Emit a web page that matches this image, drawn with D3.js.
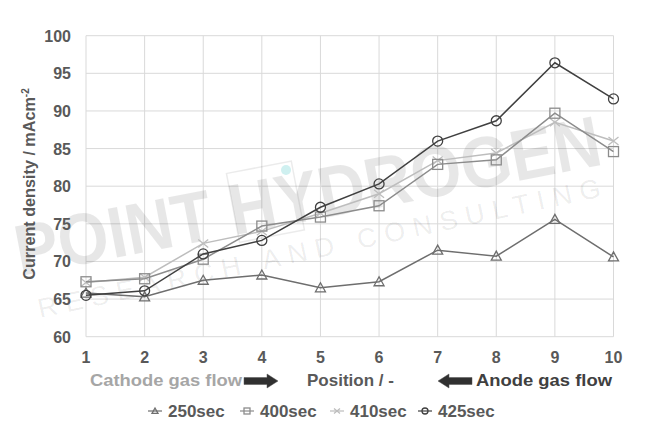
<!DOCTYPE html>
<html><head><meta charset="utf-8">
<script src="https://cdn.jsdelivr.net/npm/d3@7/dist/d3.min.js"></script>
<style>body{margin:0;background:#fff}svg{display:block;font-family:"Liberation Sans",Arial,sans-serif}</style>
</head><body><svg id="c" width="653" height="437"></svg>
<script>
const positions = [1,2,3,4,5,6,7,8,9,10];
const yTicks = [60,65,70,75,80,85,90,95,100];
const s250 = [65.8,65.3,67.5,68.2,66.5,67.3,71.5,70.7,75.6,70.6];
const s400 = [67.3,67.7,70.3,74.7,75.9,77.4,82.9,83.5,89.7,84.6];
const s410 = [67.2,67.9,72.4,74.0,76.4,79.0,83.4,84.4,88.5,86.0];
const s425 = [65.5,66.1,71.0,72.8,77.2,80.3,86.0,88.7,96.4,91.6];
const seriesNames = ["250sec","400sec","410sec","425sec"];

const series = [
  {name:seriesNames[0], values:s250, color:"#6e6e6e", marker:"triangle"},
  {name:seriesNames[1], values:s400, color:"#8c8c8c", marker:"square"},
  {name:seriesNames[2], values:s410, color:"#bdbdbd", marker:"cross"},
  {name:seriesNames[3], values:s425, color:"#404040", marker:"circle"}
];

const svg = d3.select("#c");
const x = d3.scaleLinear().domain([1,10]).range([86,613.5]);
const y = d3.scaleLinear().domain([60,100]).range([336.7,35.7]);

// grid
const grid = svg.append("g");
grid.selectAll("line.h").data(yTicks).join("line")
  .attr("x1",x(1)).attr("x2",x(10)).attr("y1",d=>y(d)).attr("y2",d=>y(d))
  .attr("stroke","#d9d9d9").attr("stroke-width",1);
grid.selectAll("line.v").data(positions).join("line")
  .attr("y1",y(60)).attr("y2",y(100)).attr("x1",d=>x(d)).attr("x2",d=>x(d))
  .attr("stroke","#d9d9d9").attr("stroke-width",1);

// watermark
const wm = svg.append("g").attr("transform","translate(20,276) rotate(-10.8)");
wm.append("text").attr("x",0).attr("y",0).attr("font-size",72).attr("font-weight","bold").attr("fill","#000").attr("fill-opacity",0.095)
  .attr("textLength",595).attr("lengthAdjust","spacingAndGlyphs").text("POINT HYDROGEN");
wm.append("rect").attr("x",222).attr("y",-62).attr("width",66).attr("height",70)
  .attr("fill","none").attr("stroke","#000").attr("stroke-opacity",0.08).attr("stroke-width",1.5);
const wm2 = svg.append("g").attr("transform","translate(40,318) rotate(-12.2)");
wm2.append("text").attr("x",0).attr("y",0).attr("font-size",27).attr("fill","#000").attr("fill-opacity",0.08)
  .attr("textLength",575).attr("lengthAdjust","spacing").text("RESEARCH AND CONSULTING");
svg.append("circle").attr("cx",286).attr("cy",170).attr("r",5).attr("fill","#a8e4e4").attr("fill-opacity",0.55);

// y axis labels
svg.append("g").selectAll("text").data(yTicks).join("text")
  .attr("x",71).attr("y",d=>y(d)+6).attr("text-anchor","end")
  .attr("font-size",16).attr("font-weight","bold").attr("fill","#595959").text(d=>d);
// x axis labels
svg.append("g").selectAll("text").data(positions).join("text")
  .attr("x",d=>x(d)).attr("y",363).attr("text-anchor","middle")
  .attr("font-size",16).attr("font-weight","bold").attr("fill","#595959").text(d=>d);

// y title
const yt = svg.append("text").attr("transform","translate(35,184) rotate(-90)")
  .attr("text-anchor","middle").attr("font-size",16.2).attr("font-weight","bold").attr("fill","#595959");
yt.append("tspan").text("Current density / mAcm");
yt.append("tspan").attr("dy",-6).attr("font-size",10).text("-2");

// x title pieces
svg.append("text").attr("x",90).attr("y",386).attr("font-size",17).attr("font-weight","bold")
  .attr("fill","#a6a6a6").attr("textLength",152).attr("lengthAdjust","spacingAndGlyphs").text("Cathode gas flow");
svg.append("text").attr("x",307).attr("y",386).attr("font-size",17).attr("font-weight","bold")
  .attr("fill","#595959").text("Position / -");
svg.append("text").attr("x",476).attr("y",386).attr("font-size",17).attr("font-weight","bold")
  .attr("fill","#404040").attr("textLength",136).attr("lengthAdjust","spacingAndGlyphs").text("Anode gas flow");

function arrow(x0,x1,yc){
  const dir = x1>x0?1:-1, head=11*dir;
  const pts=[[x0,yc-3.5],[x1-head,yc-3.5],[x1-head,yc-7],[x1,yc],[x1-head,yc+7],[x1-head,yc+3.5],[x0,yc+3.5]];
  svg.append("path").attr("d","M"+pts.map(p=>p.join(",")).join("L")+"Z")
    .attr("fill","#303030").attr("stroke","#555").attr("stroke-width",0.5);
}
arrow(244,278,381);
arrow(472,438,381);

// lines
function drawMarker(g,type,cx,cy,color,r){
  if(type==="circle") g.append("circle").attr("cx",cx).attr("cy",cy).attr("r",r).attr("fill","none").attr("stroke",color).attr("stroke-width",1.3);
  else if(type==="square") g.append("rect").attr("x",cx-r).attr("y",cy-r).attr("width",2*r).attr("height",2*r).attr("fill","none").attr("stroke",color).attr("stroke-width",1.3);
  else if(type==="triangle") g.append("path").attr("d",`M${cx},${cy-r}L${cx+r},${cy+r*0.8}L${cx-r},${cy+r*0.8}Z`).attr("fill","none").attr("stroke",color).attr("stroke-width",1.3);
  else if(type==="cross") g.append("path").attr("d",`M${cx-r},${cy-r*0.8}L${cx+r},${cy+r*0.8}M${cx-r},${cy+r*0.8}L${cx+r},${cy-r*0.8}`).attr("fill","none").attr("stroke",color).attr("stroke-width",1.3);
}
const line = d3.line().x((d,i)=>x(positions[i])).y(d=>y(d));
const order = [2,1,0,3];
order.forEach(k=>{
  const s=series[k];
  const g=svg.append("g");
  g.append("path").attr("d",line(s.values)).attr("fill","none").attr("stroke",s.color).attr("stroke-width",1.5);
  s.values.forEach((v,i)=>drawMarker(g,s.marker,x(positions[i]),y(v),s.color,5));
});

// legend
const legX=[148,240,330,418];
series.forEach((s,i)=>{
  const g=svg.append("g");
  const lx=legX[i], ly=411;
  g.append("line").attr("x1",lx).attr("x2",lx+14).attr("y1",ly).attr("y2",ly).attr("stroke",s.color).attr("stroke-width",1.2);
  drawMarker(g,s.marker,lx+7,ly,s.color,3);
  g.append("text").attr("x",lx+20).attr("y",ly+6).attr("font-size",17).attr("font-weight","bold").attr("fill","#595959").text(s.name);
});
</script></body></html>
